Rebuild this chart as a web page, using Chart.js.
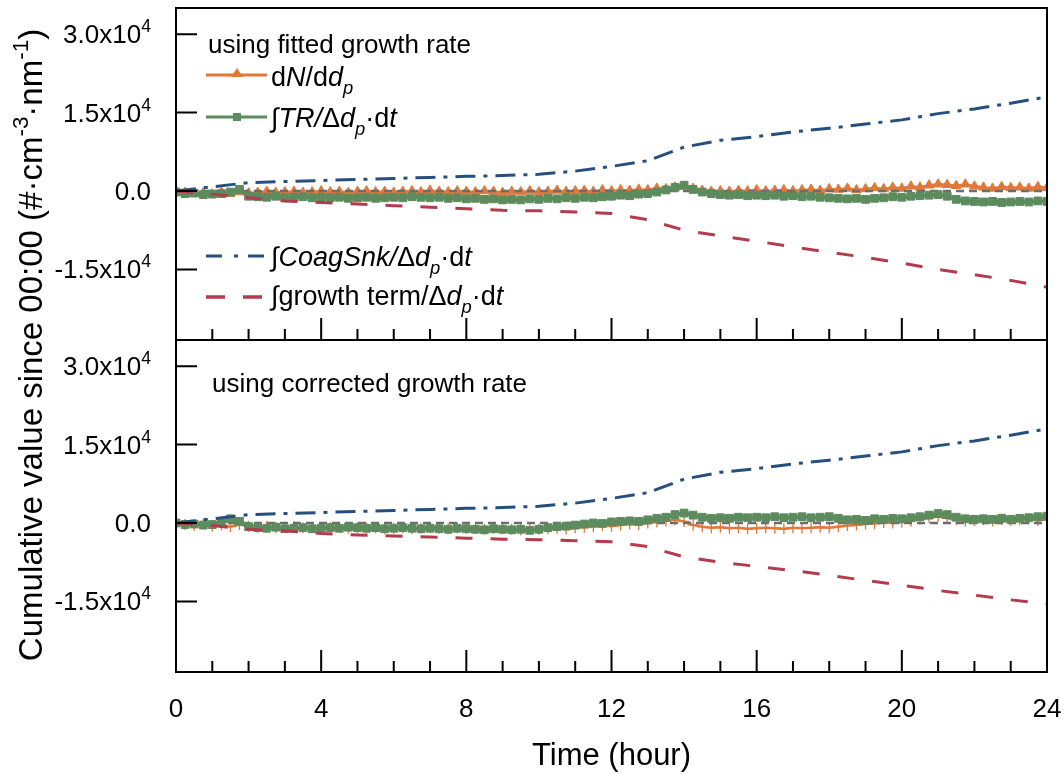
<!DOCTYPE html>
<html>
<head>
<meta charset="utf-8">
<title>Cumulative terms since 00:00</title>
<script src="https://cdn.jsdelivr.net/npm/chart.js@4.4.1/dist/chart.umd.min.js"></script>
<style>
  html, body { margin: 0; padding: 0; background: #fff; }
  canvas { display: block; }
</style>
</head>
<body>
<canvas id="c" width="1064" height="774"></canvas>
<script>
"use strict";

/* ---- data (units: # cm-3 nm-1) ---- */
const T_HOUR = [0, 1, 2, 3, 4, 5, 6, 7, 8, 9, 10, 11, 12, 13, 14, 15, 16, 17, 18, 19, 20, 21, 22, 23, 24];
const T_QUARTER = [
  0, 0.25, 0.5, 0.75, 1, 1.25, 1.5, 1.75, 2, 2.25, 2.5, 2.75, 3, 3.25, 3.5, 3.75,
  4, 4.25, 4.5, 4.75, 5, 5.25, 5.5, 5.75, 6, 6.25, 6.5, 6.75, 7, 7.25, 7.5, 7.75,
  8, 8.25, 8.5, 8.75, 9, 9.25, 9.5, 9.75, 10, 10.25, 10.5, 10.75, 11, 11.25, 11.5, 11.75,
  12, 12.25, 12.5, 12.75, 13, 13.25, 13.5, 13.75, 14, 14.25, 14.5, 14.75, 15, 15.25, 15.5, 15.75,
  16, 16.25, 16.5, 16.75, 17, 17.25, 17.5, 17.75, 18, 18.25, 18.5, 18.75, 19, 19.25, 19.5, 19.75,
  20, 20.25, 20.5, 20.75, 21, 21.25, 21.5, 21.75, 22, 22.25, 22.5, 22.75, 23, 23.25, 23.5, 23.75, 24,
];
const T_ZERO = [0, 24];
const ZERO_LINE = [0, 0];

// coagulation sink term, same in both panels
const COAG = [0, 800, 1600, 1800, 2000, 2200, 2400, 2600, 2800, 2950, 3200, 3800, 4700,
  5800, 8400, 9700, 10400, 11300, 12000, 12800, 13600, 14800, 15700, 16800, 18000];

// top panel: fitted growth rate
const GROWTH_FIT = [0, -600, -1300, -1900, -2200, -2500, -2800, -3100, -3400, -3700, -3800, -4000, -4300,
  -5500, -7500, -8600, -9600, -10700, -11700, -12700, -13800, -15000, -16000, -17100, -18400];
const DNDDP_FIT = [
  0, -300, -500, -400, -600,
  -300, -500, -200, -400,   -300, -100, -300, -200,   -100, -300, -200, 0,
  -200, -100, -300, -100,   0, -200, -100, -300,      -100, 0, -200, 100,
  -100, -200, 0, -100,      -200, 0, -100, -300,      -100, -200, 0, -200,
  -100, 100, -100, 0,       100, -100, 200, 0,        200, 100, 300, 200,
  500, 400, 700, 900,       500, 100, -100, 0,        -100, 100, 0, 200,
  0, 100, 200, 0,           200, 300, 100, 400,       300, 500, 200, 400,
  600, 400, 700, 500,       900, 700, 1100, 1300,     1200, 1000, 1300, 900,
  700, 500, 800, 600,       700, 500, 800, 600,
];
const TR_FIT = [
  -200, -500, -400, -700, -600,
  -500, -200, 300, -1000,     -1100, -1200, -1000, -1300,  -1200, -1100, -1300, -1200,
  -1300, -1200, -1400, -1300, -1200, -1400, -1300, -1200,  -1300, -1100, -1200, -1300,
  -1200, -1400, -1300, -1500, -1400, -1600, -1500, -1700,  -1600, -1700, -1500, -1600,
  -1400, -1500, -1300, -1400, -1200, -1300, -1100, -1000,  -800, -900, -600, -500,
  -200, 200, 700, 1100,       300, -200, -500, -700,       -800, -700, -900, -800,
  -900, -800, -1000, -900,    -1100, -1000, -1200, -1300,  -1400, -1500, -1400, -1600,
  -1400, -1300, -1100, -1200, -1000, -900, -800, -700,     -1000, -1600, -1900, -2000,
  -2100, -2000, -2200, -2100, -2000, -2100, -1900, -2000,
];

// bottom panel: corrected growth rate
const GROWTH_COR = [0, -500, -1200, -1500, -2000, -2300, -2500, -2700, -2900, -3100, -3200, -3400, -3600,
  -4500, -6500, -7500, -8300, -9100, -10000, -11000, -11900, -12900, -13800, -14700, -15500];
const DNDDP_COR = [
  0, -300, -500, -200, -600,
  -400, -700, -300, -600,     -800, -700, -900, -800,      -700, -900, -800, -1000,
  -900, -800, -1000, -900,    -1000, -900, -1100, -1000,   -900, -1100, -1000, -900,
  -1000, -1100, -900, -1000,  -1100, -1200, -1000, -1100,  -1200, -1300, -1100, -1200,
  -1100, -1000, -1200, -900,  -800, -700, -500, -600,      -400, -200, -300, 0,
  200, 400, 600, 300,         -400, -700, -900, -800,      -1000, -900, -1100, -1000,
  -900, -1000, -1100, -900,   -1000, -900, -800, -900,     -700, -500, -400, -200,
  -100, 100, 0, 200,          400, 700, 1000, 1300,        900, 600, 400, 500,
  600, 400, 700, 500,         600, 800, 500, 700,
];
const TR_COR = [
  0, -300, -200, -400, -300,
  200, 800, 300, -700,        -900, -1000, -800, -1100,    -1000, -900, -1100, -1000,
  -900, -1000, -800, -900,    -1000, -900, -1100, -1000,   -900, -1000, -1100, -1000,
  -1100, -1200, -1000, -1100, -1200, -1300, -1100, -1200,  -1300, -1200, -1400, -1200,
  -900, -700, -600, -400,     -200, 0, -100, 200,          300, 400, 300, 600,
  900, 1100, 1600, 1900,      1500, 1100, 900, 1000,       900, 1100, 1000, 1100,
  1000, 1200, 1000, 1100,     1200, 1000, 1100, 1200,      900, 600, 700, 500,
  800, 700, 900, 800,         1000, 1200, 1500, 1800,      1600, 1100, 800, 700,
  800, 700, 900, 700,         900, 1000, 1200, 1300,
];

/* ---- axes ---- */
const X_TICKS = [0, 4, 8, 12, 16, 20, 24];
const Y_TICKS = [-15000, 0, 15000, 30000];
// mantissa / exponent of each y tick label (exponent drawn as superscript)
const Y_MANT = ["-1.5x10", "0.0", "1.5x10", "3.0x10"];
const Y_EXP = ["4", "", "4", "4"];
const Y_MIN = -28500, Y_MAX = 35000;

const C = {
  orange: "#e0783a",
  green: "#5c8b5d",
  blue: "#274f7e",
  red: "#b43a4d",
  gray: "#6d6d6d",
};
const FONT = "'Liberation Sans', Arial, sans-serif";

const pts = (xs, ys) => xs.map((x, i) => ({ x, y: ys[i] }));

function panelSets(axis, g, dn, tr, dnStyle) {
  return [
    { data: pts(T_HOUR, g), yAxisID: axis, borderColor: C.red, borderWidth: 3, borderDash: [17, 18], pointRadius: 0 },
    { data: pts(T_HOUR, COAG), yAxisID: axis, borderColor: C.blue, borderWidth: 3, borderDash: [20, 8, 4, 8], pointRadius: 0 },
    { data: pts(T_QUARTER, tr), yAxisID: axis, borderColor: C.green, backgroundColor: C.green, borderWidth: 4,
      pointStyle: "rect", pointRadius: 5.5, pointBorderWidth: 1 },
    { data: pts(T_ZERO, ZERO_LINE), yAxisID: axis, borderColor: C.gray, borderWidth: 2.5, borderDash: [8, 5], pointRadius: 0 },
    Object.assign({ data: pts(T_QUARTER, dn), yAxisID: axis, borderColor: C.orange, backgroundColor: C.orange, borderWidth: 2.5 }, dnStyle),
  ];
}

function yScale() {
  return {
    type: "linear", position: "left", stack: "panels", stackWeight: 1,
    min: Y_MIN, max: Y_MAX,
    grid: { display: false, drawTicks: false }, border: { display: false },
    afterBuildTicks: (s) => { s.ticks = Y_TICKS.map((v) => ({ value: v })); },
    afterFit: (s) => { s.width = 176; s.paddingTop = s.paddingBottom = 0; },
    ticks: { display: false },
  };
}

/* ---- rich text (italics, sub/superscripts) ---- */
function rich(ctx, parts, x, y, size, draw = true) {
  let cx = x;
  for (const [txt, f = ""] of parts) {
    const small = f.includes("b") || f.includes("p");
    const s = small ? size * 0.68 : size;
    ctx.font = `${f.includes("i") ? "italic " : ""}${s}px ${FONT}`;
    const dy = f.includes("b") ? size * 0.28 : f.includes("p") ? -size * 0.42 : 0;
    if (draw) ctx.fillText(txt, cx, y + dy);
    cx += ctx.measureText(txt).width;
  }
  return cx - x;
}

const Y_TITLE = [["Cumulative value since 00:00 (#\u00b7cm"], ["-3", "p"], ["\u00b7nm"], ["-1", "p"], [")"]];
const LEG_DN = [["d"], ["N", "i"], ["/d"], ["d", "i"], ["p", "ib"]];
const LEG_TR = [["\u222b"], ["TR/", "i"], ["\u0394"], ["d", "i"], ["p", "ib"], ["\u00b7d"], ["t", "i"]];
const LEG_COAG = [["\u222b"], ["CoagSnk/", "i"], ["\u0394"], ["d", "i"], ["p", "ib"], ["\u00b7d"], ["t", "i"]];
const LEG_GROW = [["\u222bgrowth term/\u0394"], ["d", "i"], ["p", "ib"], ["\u00b7d"], ["t", "i"]];

function sample(ctx, y, color, dash, width) {
  ctx.save();
  ctx.strokeStyle = color; ctx.lineWidth = width; ctx.setLineDash(dash);
  ctx.beginPath(); ctx.moveTo(206, y); ctx.lineTo(267, y); ctx.stroke();
  ctx.restore();
}

const decor = {
  id: "decor",
  afterDraw(chart) {
    const { ctx, chartArea: a, scales } = chart;
    const x = scales.x;
    ctx.save();
    ctx.strokeStyle = "#000"; ctx.lineWidth = 2;
    ctx.fillStyle = "#000"; ctx.textBaseline = "alphabetic"; ctx.textAlign = "left";
    for (const id of ["yT", "yB"]) {
      const s = scales[id];
      ctx.strokeRect(a.left, s.top, a.right - a.left, s.bottom - s.top);
      ctx.beginPath();
      for (let h = 0; h <= 24; h++) {
        const px = x.getPixelForValue(h);
        const len = X_TICKS.includes(h) ? 22 : 11;
        ctx.moveTo(px, s.bottom); ctx.lineTo(px, s.bottom - len);
      }
      for (const v of Y_TICKS) {
        const py = s.getPixelForValue(v);
        ctx.moveTo(a.left, py); ctx.lineTo(a.left + 21, py);
      }
      ctx.stroke();
      // y tick labels, right-aligned at x = 151
      Y_TICKS.forEach((v, i) => {
        const parts = [[Y_MANT[i]], [Y_EXP[i], "p"]];
        const w = rich(ctx, parts, 0, 0, 26, false);
        rich(ctx, parts, 151 - w, s.getPixelForValue(v) + 9, 26);
      });
    }

    // panel captions and legend
    rich(ctx, [["using fitted growth rate"]], 208, 53, 26);
    rich(ctx, [["using corrected growth rate"]], 212, 392, 26);

    sample(ctx, 75, C.orange, [], 3);
    ctx.fillStyle = C.orange;
    ctx.beginPath(); ctx.moveTo(237, 68); ctx.lineTo(243, 77); ctx.lineTo(231, 77); ctx.closePath(); ctx.fill();
    sample(ctx, 117, C.green, [], 3);
    ctx.fillStyle = C.green; ctx.fillRect(233, 113, 8, 8);
    sample(ctx, 256, C.blue, [16, 12, 4, 10], 3);
    sample(ctx, 297, C.red, [19, 18], 3.5);

    ctx.fillStyle = "#000";
    rich(ctx, LEG_DN, 271, 86, 27);
    rich(ctx, LEG_TR, 271, 127, 27);
    rich(ctx, LEG_COAG, 271, 266, 27);
    rich(ctx, LEG_GROW, 271, 305, 27);

    // shared y title
    const w = rich(ctx, Y_TITLE, 0, 0, 33, false);
    ctx.translate(42, 345);
    ctx.rotate(-Math.PI / 2);
    rich(ctx, Y_TITLE, -w / 2, 0, 33);
    ctx.restore();
  },
};

new Chart(document.getElementById("c"), {
  type: "line",
  data: {
    datasets: [
      ...panelSets("yT", GROWTH_FIT, DNDDP_FIT, TR_FIT, { pointStyle: "triangle", pointRadius: 5.5, pointBorderWidth: 1 }),
      ...panelSets("yB", GROWTH_COR, DNDDP_COR, TR_COR, { pointStyle: "cross", pointRadius: 5.5, pointBorderWidth: 1.3 }),
    ],
  },
  options: {
    responsive: false, animation: false, devicePixelRatio: 1,
    layout: { padding: { top: 8, right: 17, left: 0, bottom: 0 } },
    plugins: { legend: { display: false }, tooltip: { enabled: false } },
    elements: { line: { tension: 0 } },
    scales: {
      x: {
        type: "linear", position: "bottom", min: 0, max: 24,
        grid: { display: false, drawTicks: false }, border: { display: false },
        afterBuildTicks: (s) => { s.ticks = X_TICKS.map((v) => ({ value: v })); },
        afterFit: (s) => { s.height = 102; s.paddingLeft = s.paddingRight = 0; },
        ticks: { padding: 22, maxRotation: 0, color: "#000", font: { family: FONT, size: 26 } },
        title: { display: true, text: "Time (hour)", color: "#000", padding: { top: 0, bottom: 0 },
          font: { family: FONT, size: 31, lineHeight: 1.1 } },
      },
      yB: yScale(),
      yT: yScale(),
    },
  },
  plugins: [decor],
});
</script>
</body>
</html>
